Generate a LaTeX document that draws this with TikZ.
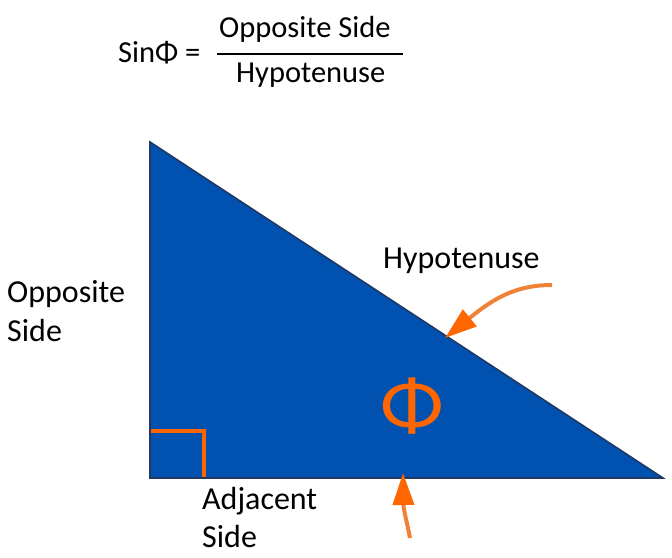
\documentclass[tikz,border=0pt]{standalone}
\usepackage{fontspec}
\setmainfont{Carlito}
\usetikzlibrary{arrows.meta}
\definecolor{triFill}{RGB}{0,81,176}
\definecolor{triBorder}{RGB}{31,56,100}
\definecolor{orangeMark}{RGB}{255,102,0}
\definecolor{arrowLine}{RGB}{240,130,55}
\tikzset{
  lbl/.style={inner sep=0pt, anchor=base west, font=\fontsize{32}{39}\selectfont},
  frm/.style={inner sep=0pt, anchor=base west, font=\fontsize{30.5}{36}\selectfont},
  callout/.style={draw=arrowLine, line width=4pt,
    -{Triangle[length=32pt,width=21pt,color=orangeMark]}},
  rightmark/.style={draw=orangeMark, line width=4pt},
}
\begin{document}
\begin{tikzpicture}[x=1pt,y=-1pt]
\useasboundingbox (0,0) rectangle (672,557);
% formula
\node[frm] (sin) at (118,62) {SinΦ =};
\node[frm] (num) at (219,37) {Opposite Side};
\node[frm] (den) at (236,82) {Hypotenuse};
\coordinate (fl1) at (217,54);
\coordinate (fl2) at (403,54);
\draw[line width=2.5pt] (fl1) -- (fl2);
% triangle
\coordinate (A) at (150,142);
\coordinate (B) at (150,478);
\coordinate (C) at (663,478);
\fill[triFill] (A) -- (B) -- (C) -- cycle;
\coordinate (m1) at (150,431);
\coordinate (m2) at (204,478);
\draw[rightmark] (m1) -| (m2);
\draw[triBorder, line width=1.6pt, line join=miter] (A) -- (B) -- (C) -- cycle;
% phi
\node[inner sep=0pt, text=orangeMark, font=\fontsize{76}{80}\selectfont, xscale=1.1] (phi) at (412,406) {Φ};
% labels
\node[lbl] (hyp) at (383,268) {Hypotenuse};
\node[lbl] (opp1) at (7,302) {Opposite};
\node[lbl] (opp2) at (7,341) {Side};
\node[lbl] (adj1) at (202,509) {Adjacent};
\node[lbl] (adj2) at (202,547) {Side};
% arrows
\coordinate (t1) at (552,285);
\coordinate (h1) at (445,338);
\draw[callout] (t1) .. controls (515,285) and (493,299) .. (h1);
\coordinate (t2) at (410,538);
\coordinate (h2) at (403,473);
\draw[callout] (t2) .. controls (407,522) and (403.5,510) .. (h2);
\end{tikzpicture}
\end{document}
